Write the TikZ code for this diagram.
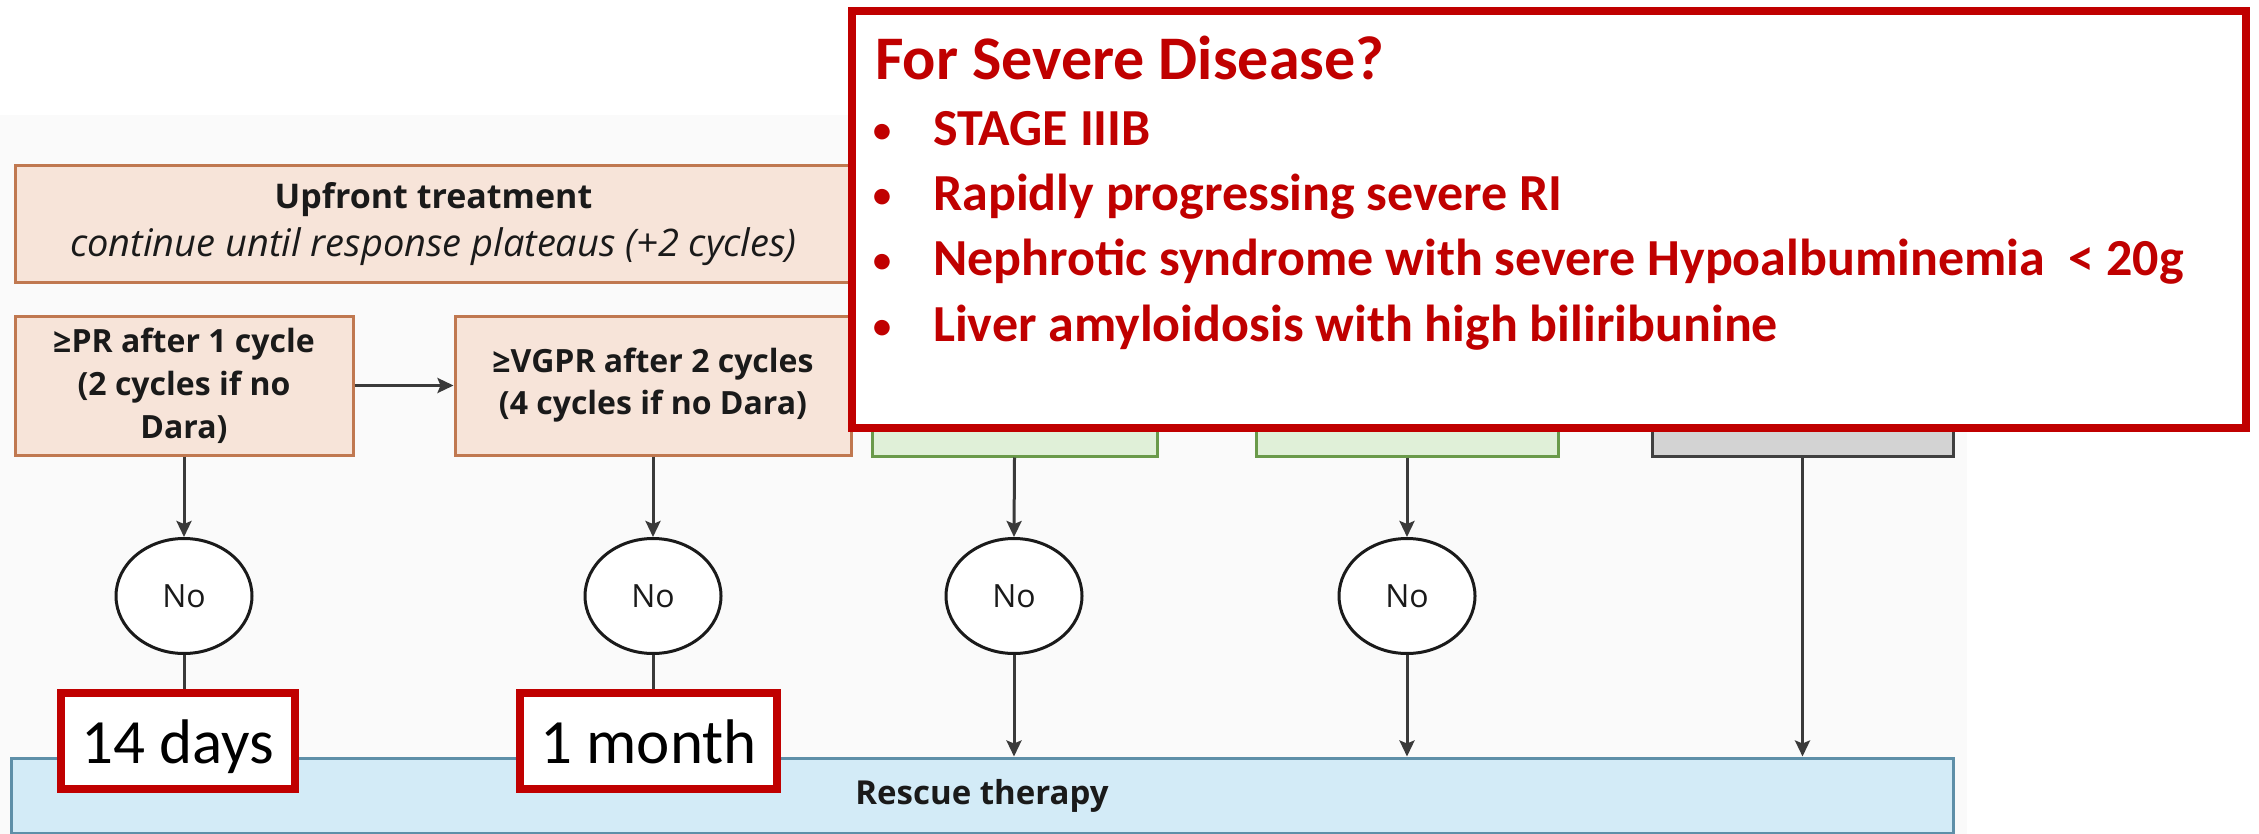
\documentclass[tikz,border=0pt]{standalone}
\usepackage{fontspec}
\setmainfont{Carlito}
\newfontfamily\osans{Open Sans}
\usetikzlibrary{arrows.meta,shapes.geometric}
\definecolor{redbox}{HTML}{C00000}
\definecolor{peachfill}{HTML}{F7E4D9}
\definecolor{peachdraw}{HTML}{C07850}
\definecolor{greenfill}{HTML}{E0F0D8}
\definecolor{greendraw}{HTML}{6A9A4A}
\definecolor{grayfill}{HTML}{D3D3D3}
\definecolor{graydraw}{HTML}{404040}
\definecolor{bluefill}{HTML}{D3EBF7}
\definecolor{bluedraw}{HTML}{5E8FA8}
\definecolor{linec}{HTML}{3A3A3A}
\definecolor{bgc}{HTML}{FAFAFA}
\definecolor{txtc}{HTML}{1A1A1A}
\newcommand{\bul}{\makebox[62pt][l]{\mdseries\fontsize{44}{44}\selectfont\raisebox{1pt}{•}}}
\begin{document}
\begin{tikzpicture}[x=1pt,y=-1pt,
  peach/.style={draw=peachdraw, fill=peachfill, line width=3pt, inner sep=0pt, align=center, text=txtc},
  greenbox/.style={draw=greendraw, fill=greenfill, line width=3pt, inner sep=0pt},
  graybox/.style={draw=graydraw, fill=grayfill, line width=3pt, inner sep=0pt},
  nocirc/.style={ellipse, draw=txtc, fill=white, line width=3pt, minimum width=136pt, minimum height=115pt, inner sep=0pt, text=txtc, font=\osans\fontsize{32}{36}\selectfont},
  conn/.style={draw=linec, line width=3pt},
  arr/.style={conn, -{Stealth[length=16pt,width=15pt,inset=3pt]}},
  timebox/.style={draw=redbox, fill=white, line width=8pt, minimum height=96pt, inner sep=0pt, text height=44pt, text depth=0pt, font=\fontsize{63}{70}\selectfont},
  redtext/.style={text=redbox, font=\bfseries\fontsize{52}{60}\selectfont, anchor=base west, inner sep=0pt}
]
\useasboundingbox (0,0) rectangle (2259,834);
\fill[bgc] (0,115) rectangle (1967,834);

% peach boxes
\node[peach, minimum width=837pt, minimum height=117pt, font=\osans\fontsize{34}{48}\selectfont] (up) at (433.5,224.5)
  {\raisebox{-3pt}{\textbf{Upfront treatment}}\\\fontsize{38}{48}\selectfont\raisebox{-3pt}{\textit{continue until response plateaus (+2 cycles)}}};
\node[peach, minimum width=338pt, minimum height=139pt, font=\osans\bfseries\fontsize{32}{43}\selectfont] (pr) at (184,385.5)
  {≥PR after 1 cycle\\(2 cycles if no\\Dara)};
\node[peach, minimum width=396pt, minimum height=139pt, font=\osans\bfseries\fontsize{32}{42}\selectfont] (vgpr) at (653,385.5)
  {≥VGPR after 2 cycles\\(4 cycles if no Dara)};

% green and gray boxes (tops hidden under the red box)
\node[greenbox, minimum width=285pt, minimum height=150pt] (g1) at (1014.5,381) {};
\node[greenbox, minimum width=302pt, minimum height=150pt] (g2) at (1407,381) {};
\node[graybox, minimum width=301pt, minimum height=150pt] (gr) at (1802.5,381) {};

% rescue box
\node[draw=bluedraw, fill=bluefill, line width=3pt, minimum width=1942pt, minimum height=75pt, inner sep=0pt,
  text=txtc, font=\osans\bfseries\fontsize{33}{38}\selectfont] (rescue) at (982,795.5) {Rescue therapy};

% circles
\node[nocirc] (no1) at (184,596) {No};
\node[nocirc] (no2) at (653,596) {No};
\node[nocirc] (no3) at (1014,596) {No};
\node[nocirc] (no4) at (1407,596) {No};

% connectors
\draw[arr] (pr.east) -- (vgpr.west);
\draw[arr] (pr.south) -- (no1.north);
\draw[arr] (vgpr.south) -- (no2.north);
\draw[arr] (g1.south) -- (no3.north);
\draw[arr] (g2.south) -- (no4.north);
\draw[arr] (no3.south) -- (no3.south |- rescue.north);
\draw[arr] (no4.south) -- (no4.south |- rescue.north);
\draw[arr] (gr.south) -- (gr.south |- rescue.north);

% time boxes
\node[timebox, minimum width=234pt] (d14) at (178,741) {14 days};
\node[timebox, minimum width=257pt] (mon) at (648.5,741) {1 month};
\draw[conn] (no1.south) -- (no1.south |- d14.north);
\draw[conn] (no2.south) -- (no2.south |- mon.north);

% severe disease box
\node[draw=redbox, fill=white, line width=8pt, minimum width=1394pt, minimum height=417pt, inner sep=0pt] (sev) at (1549,219.5) {};
\node[redtext, font=\bfseries\fontsize{62}{70}\selectfont] (title) at (875,80) {For Severe Disease?};
\node[redtext] (b1) at (871,146) {\bul STAGE IIIB};
\node[redtext] (b2) at (871,211) {\bul Rapidly progressing severe RI};
\node[redtext] (b3) at (871,276) {\bul Nephrotic syndrome with severe Hypoalbuminemia \ {<} 20g};
\node[redtext] (b4) at (871,341) {\bul Liver amyloidosis with high biliribunine};
\end{tikzpicture}
\end{document}
